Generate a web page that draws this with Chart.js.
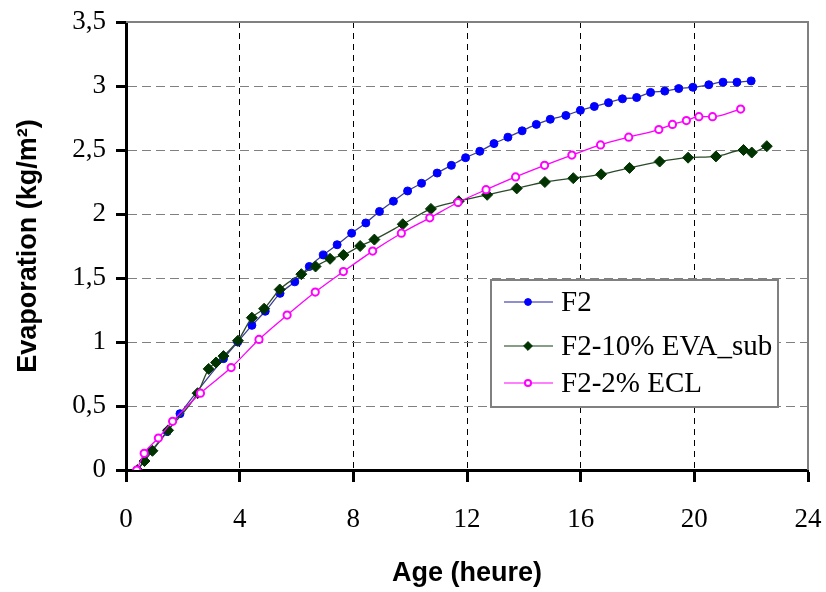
<!DOCTYPE html>
<html>
<head>
<meta charset="utf-8">
<script src="https://cdn.jsdelivr.net/npm/chart.js@4/dist/chart.umd.min.js"></script>
<style>
  html, body { margin: 0; padding: 0; background: #fff; }
  #wrap { width: 826px; height: 592px; position: relative; }
</style>
</head>
<body>
<div id="wrap"><canvas id="chart"></canvas></div>
<script>
// Evaporation (kg/m²) vs age (heure)
const X_TICKS = [0, 4, 8, 12, 16, 20, 24];

const f2Age = [0.4, 0.9, 1.45, 1.9, 3.43, 3.93, 4.43, 4.9, 5.42, 5.94, 6.45, 6.94, 7.43, 7.94,
  8.44, 8.92, 9.41, 9.91, 10.4, 10.95, 11.45, 11.95, 12.45, 12.95, 13.44, 13.94, 14.44, 14.93,
  15.48, 15.99, 16.48, 16.98, 17.47, 17.97, 18.46, 18.96, 19.45, 19.95, 20.51, 21.01, 21.5, 22.0];
const f2Evap = [0, 0.15, 0.3, 0.44, 0.87, 1.0, 1.13, 1.24, 1.38, 1.47, 1.59, 1.68, 1.76, 1.85,
  1.93, 2.02, 2.10, 2.18, 2.24, 2.32, 2.38, 2.44, 2.49, 2.55, 2.60, 2.65, 2.70, 2.74,
  2.77, 2.81, 2.84, 2.87, 2.90, 2.91, 2.95, 2.96, 2.98, 2.99, 3.01, 3.03, 3.03, 3.04];

const evaAge = [0.4, 0.65, 0.93, 1.48, 2.52, 2.91, 3.17, 3.43, 3.94, 4.43, 4.86, 5.41, 6.17,
  6.67, 7.18, 7.65, 8.24, 8.74, 9.74, 10.73, 11.71, 12.71, 13.75, 14.74, 15.74, 16.72,
  17.72, 18.78, 19.78, 20.76, 21.73, 22.02, 22.55];
const evaEvap = [0, 0.07, 0.15, 0.31, 0.60, 0.79, 0.84, 0.89, 1.01, 1.19, 1.26, 1.41, 1.53,
  1.59, 1.65, 1.68, 1.75, 1.80, 1.92, 2.04, 2.10, 2.15, 2.20, 2.25, 2.28, 2.31,
  2.36, 2.41, 2.44, 2.45, 2.50, 2.48, 2.53];

const eclAge = [0.38, 0.64, 1.14, 1.64, 2.62, 3.7, 4.68, 5.67, 6.66, 7.65, 8.68, 9.69, 10.69,
  11.68, 12.67, 13.71, 14.73, 15.69, 16.70, 17.69, 18.75, 19.23, 19.72, 20.16, 20.64, 21.63];
const eclEvap = [0, 0.13, 0.25, 0.38, 0.6, 0.8, 1.02, 1.21, 1.39, 1.55, 1.71, 1.85, 1.97,
  2.09, 2.19, 2.29, 2.38, 2.46, 2.54, 2.60, 2.66, 2.70, 2.73, 2.76, 2.76, 2.82];

const SERIES_NAMES = ["F2", "F2-10% EVA_sub", "F2-2% ECL"];

const toPoints = (xs, ys) => xs.map((x, i) => ({ x, y: ys[i] }));
const commaNum = v => String(v).replace(".", ",");

const SERIF = "'Liberation Serif', 'Times New Roman', serif";
const SANS = "'Liberation Sans', Arial, sans-serif";

// legend box drawn inside the plot, like the Excel original
const boxLegend = {
  id: "boxLegend",
  afterDraw(chart) {
    const ctx = chart.ctx;
    const bx = 491, by = 280, bw = 287, bh = 127;
    ctx.save();
    ctx.fillStyle = "#fff";
    ctx.fillRect(bx, by, bw, bh);
    ctx.strokeStyle = "#808080";
    ctx.lineWidth = 2;
    ctx.strokeRect(bx, by, bw, bh);
    const rows = [302, 346, 383];
    chart.data.datasets.forEach((ds, i) => {
      const y = rows[i];
      ctx.strokeStyle = ds.legendLine;
      ctx.lineWidth = 1.5;
      ctx.beginPath();
      ctx.moveTo(504, y);
      ctx.lineTo(553, y);
      ctx.stroke();
      ctx.fillStyle = ds.pointBackgroundColor;
      ctx.strokeStyle = ds.pointBorderColor;
      ctx.lineWidth = ds.pointBorderWidth;
      ctx.beginPath();
      if (ds.pointStyle === "rectRot") {
        const r = ds.pointRadius * 0.8;
        ctx.moveTo(528, y - r); ctx.lineTo(528 + r, y); ctx.lineTo(528, y + r); ctx.lineTo(528 - r, y);
        ctx.closePath();
      } else {
        ctx.arc(528, y, ds.pointRadius * 0.85, 0, Math.PI * 2);
      }
      ctx.fill();
      ctx.stroke();
      ctx.fillStyle = "#000";
      ctx.font = "29px " + SERIF;
      ctx.textBaseline = "middle";
      ctx.fillText(ds.label, 561, y + 1);
    });
    ctx.restore();
  },
  beforeDatasetsDraw(chart) {
    // gray frame on top and right of the plot area
    const { ctx, chartArea: a } = chart;
    ctx.save();
    ctx.strokeStyle = "#808080";
    ctx.lineWidth = 2;
    ctx.beginPath();
    ctx.moveTo(a.left, a.top);
    ctx.lineTo(a.right, a.top);
    ctx.lineTo(a.right, a.bottom);
    ctx.stroke();
    ctx.restore();
  }
};

new Chart(document.getElementById("chart"), {
  type: "line",
  data: {
    datasets: [
      {
        label: SERIES_NAMES[0],
        data: toPoints(f2Age, f2Evap),
        borderColor: "#3c3c96",
        legendLine: "#6a6ac0",
        borderWidth: 1.3,
        pointStyle: "circle",
        pointRadius: 4,
        pointBackgroundColor: "#0000ff",
        pointBorderColor: "#0000ff",
        pointBorderWidth: 1,
        order: 3
      },
      {
        label: SERIES_NAMES[1],
        data: toPoints(evaAge, evaEvap),
        borderColor: "#2a4a2a",
        legendLine: "#5e7e5e",
        borderWidth: 1.3,
        pointStyle: "rectRot",
        pointRadius: 5.5,
        pointBackgroundColor: "#003300",
        pointBorderColor: "#003300",
        pointBorderWidth: 1,
        order: 2
      },
      {
        label: SERIES_NAMES[2],
        data: toPoints(eclAge, eclEvap),
        borderColor: "#ff00ff",
        legendLine: "#ff55ff",
        borderWidth: 1.3,
        pointStyle: "circle",
        pointRadius: 3.6,
        pointBackgroundColor: "#ffffff",
        pointBorderColor: "#ff00ff",
        pointBorderWidth: 2,
        order: 1
      }
    ]
  },
  options: {
    responsive: true,
    maintainAspectRatio: false,
    animation: false,
    cubicInterpolationMode: "monotone",
    layout: { padding: { top: 0, right: 0, left: 0, bottom: 0 } },
    plugins: {
      legend: { display: false },
      tooltip: { enabled: false }
    },
    scales: {
      x: {
        type: "linear",
        min: 0,
        max: 24,
        afterFit: s => { s.height = 122; s.paddingRight = 18; },
        afterBuildTicks: s => { s.ticks = X_TICKS.map(v => ({ value: v })); },
        ticks: {
          color: "#000",
          font: { family: SERIF, size: 27 },
          padding: 22,
          maxRotation: 0,
          callback: commaNum
        },
        grid: {
          color: ctx => (ctx.tick && (ctx.tick.value === 0 || ctx.tick.value === 24)) ? "rgba(0,0,0,0)" : "#000",
          lineWidth: 1,
          tickLength: 12,
          tickWidth: 3,
          tickColor: "#000"
        },
        border: { display: true, color: "#000", width: 3, dash: [6, 5] },
        title: {
          display: true,
          text: "Age (heure)",
          color: "#000",
          font: { family: SANS, size: 27, weight: "bold" },
          padding: { top: 0, bottom: 2 }
        }
      },
      y: {
        min: 0,
        max: 3.5,
        afterFit: s => { s.width = 126; s.paddingTop = 22; },
        ticks: {
          stepSize: 0.5,
          color: "#000",
          font: { family: SERIF, size: 27 },
          padding: 10,
          callback: commaNum
        },
        grid: {
          color: ctx => (ctx.tick && (ctx.tick.value === 0 || ctx.tick.value === 3.5)) ? "rgba(0,0,0,0)" : "#808080",
          lineWidth: 1,
          tickLength: 10,
          tickWidth: 3,
          tickColor: "#000"
        },
        border: { display: true, color: "#000", width: 3, dash: [9, 5] },
        title: {
          display: true,
          text: "Evaporation (kg/m²)",
          color: "#000",
          font: { family: SANS, size: 27, weight: "bold" },
          padding: { top: 12, bottom: 0 }
        }
      }
    }
  },
  plugins: [boxLegend]
});
</script>
</body>
</html>
